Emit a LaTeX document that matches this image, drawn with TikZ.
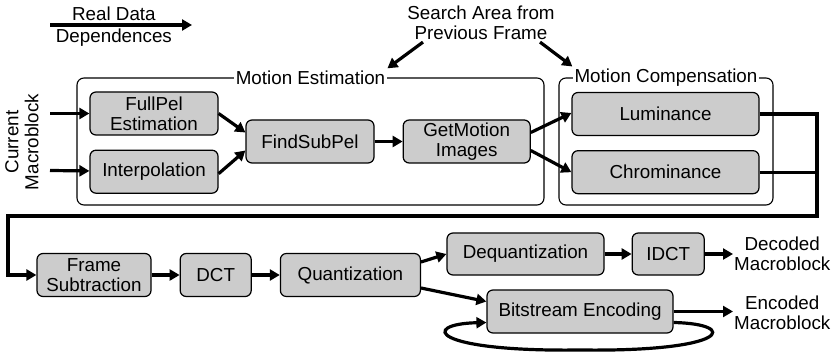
\documentclass[tikz,border=0pt]{standalone}
\usepackage{fontspec}
\setmainfont{Liberation Sans}
\usepackage{xcolor}
\usepackage{tikz}
\usetikzlibrary{arrows.meta,positioning}
\definecolor{boxGray}{HTML}{CCCCCC}

\begin{document}
\begin{tikzpicture}[
    x=1pt, y=1pt,
    node distance=14pt and 28pt,
    every node/.style={font=\fontsize{18.8}{20}\selectfont, align=center},
    procbox/.style={draw=black, line width=1.2pt, rounded corners=6pt, fill=boxGray, minimum height=43pt, inner sep=2pt},
    groupbox/.style={draw=black, line width=1.1pt, rounded corners=7pt, fill=white},
    grouplabel/.style={fill=white, inner sep=2pt},
    dataflow/.style={line width=3.2pt, -{Triangle[length=10pt,width=11pt]}},
    dataline/.style={line width=3.2pt}
]
    \useasboundingbox (0,0) rectangle (837,-355);

    % legend
    \coordinate (legA) at (50,-25);
    \coordinate (legB) at (192,-25);
    \draw[dataflow] (legA) -- node[pos=0.45, above=-1pt] (legtop) {Real Data} node[pos=0.45, below=-1pt] (legbot) {Dependences} (legB);

    % motion estimation / compensation groups
    \node[groupbox, minimum width=467pt, minimum height=127pt] (mest) at (310.5,-141.5) {};
    \node[groupbox, minimum width=214pt, minimum height=127pt] (mcomp) at (666,-141.5) {};
    \node[grouplabel] (melabel) at (mest.north) {Motion Estimation};
    \node[grouplabel] (mclabel) at (mcomp.north) {Motion Compensation};
    \node[inner sep=1pt] (search) at (481,-23) {Search Area from\\Previous Frame};

    \node[procbox, minimum width=128pt] (fullpel) at (154,-113.5) {FullPel\\Estimation};
    \node[procbox, minimum width=128pt, below=14pt of fullpel] (interp) {Interpolation};
    \node[procbox, minimum width=128pt] (findsub) at (310,-141.5) {FindSubPel};
    \node[procbox, minimum width=127pt, right=28pt of findsub] (getmot) {GetMotion\\Images};
    \node[procbox, minimum width=187pt] (lum) at (665.5,-114) {Luminance};
    \node[procbox, minimum width=187pt, below=14pt of lum] (chrom) {Chrominance};

    \node[rotate=90] (curmb) at (22,-142) {Current\\Macroblock};
    \coordinate (cmA) at (50,-113.5);
    \coordinate (cmB) at (50,-170.5);

    % encoding chain
    \node[procbox, minimum width=114pt] (framesub) at (94,-275) {Frame\\Subtraction};
    \node[procbox, minimum width=71pt, right=of framesub] (dct) {DCT};
    \node[procbox, minimum width=140pt, right=of dct] (quant) {Quantization};
    \node[procbox, minimum width=157pt, minimum height=42pt] (dequant) at (525.5,-254) {Dequantization};
    \node[procbox, minimum width=72pt, minimum height=42pt, right=27pt of dequant] (idct) {IDCT};
    \node[procbox, minimum width=186pt] (bits) at (580,-311.5) {Bitstream Encoding};
    \node[inner sep=1pt, anchor=west] (decoded) at (733,-254) {Decoded\\Macroblock};
    \node[inner sep=1pt, anchor=west] (encoded) at (733,-313) {Encoded\\Macroblock};

    \coordinate (turnA) at (817,-216);
    \coordinate (turnB) at (8,-216);

    \draw[dataflow] ([xshift=-58pt,yshift=-1pt]search.south) -- (melabel.north east);
    \draw[dataflow] ([xshift=59pt,yshift=-1pt]search.south) -- (mclabel.north west);
    \draw[dataflow] (cmA) -- (fullpel);
    \draw[dataflow] (cmB) -- (interp);
    \draw[dataflow] (fullpel.east) -- ([yshift=9pt]findsub.west);
    \draw[dataflow] ([yshift=-2pt]interp.east) -- ([yshift=-9pt]findsub.west);
    \draw[dataflow] (findsub) -- (getmot);
    \draw[dataflow] ([yshift=9pt]getmot.east) -- ([yshift=1pt]lum.west);
    \draw[dataflow] ([yshift=-9pt]getmot.east) -- (chrom.west);
    \draw[dataline] (chrom.east) -- (chrom.east -| turnA);
    \draw[dataflow] (lum.east) -| (turnA) -- (turnB) |- (framesub.west);
    \draw[dataflow] (framesub) -- (dct);
    \draw[dataflow] (dct) -- (quant);
    \draw[dataflow] ([yshift=13pt]quant.east) -- (dequant.west);
    \draw[dataflow] ([yshift=-13pt]quant.east) -- ([yshift=10pt]bits.west);
    \draw[dataflow] (dequant) -- (idct);
    \draw[dataflow] (idct) -- (decoded.west);
    \draw[dataflow] (bits.east) -- (bits.east -| encoded.west);
    \draw[dataflow] ([yshift=-11pt]bits.east) .. controls (740,-324) and (730,-352) .. (580,-350)
        .. controls (430,-352) and (420,-324) .. ([yshift=-11pt]bits.west);
\end{tikzpicture}
\end{document}
